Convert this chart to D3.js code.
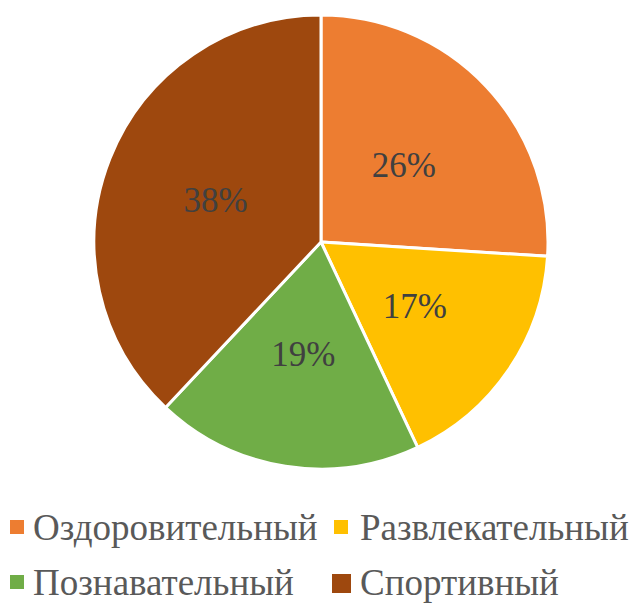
<!DOCTYPE html>
<html>
<head>
<meta charset="utf-8">
<script src="https://cdn.jsdelivr.net/npm/d3@7"></script>
<style>
  body { margin: 0; background: #fff; }
</style>
</head>
<body>
<div id="chart"></div>
<script>
// Chart data
const categories = ["Оздоровительный", "Развлекательный", "Познавательный", "Спортивный"];
const values = [26, 17, 19, 38];
const colors = ["#ED7D31", "#FFC000", "#70AD47", "#9E480E"];

const width = 633, height = 603;
const cx = 321, cy = 242, radius = 227;
const font = "Liberation Serif";

const svg = d3.select("#chart").append("svg")
    .attr("width", width)
    .attr("height", height);

const data = categories.map((c, i) => ({ name: c, value: values[i], color: colors[i] }));

const pie = d3.pie().sort(null).value(d => d.value);
const arc = d3.arc().innerRadius(0).outerRadius(radius);
const labelArc = d3.arc().innerRadius(radius * 0.5).outerRadius(radius * 0.5);

const g = svg.append("g").attr("transform", `translate(${cx},${cy})`);
const arcs = pie(data);

g.selectAll("path.slice")
    .data(arcs)
    .join("path")
    .attr("class", "slice")
    .attr("d", arc)
    .attr("fill", d => d.data.color)
    .attr("stroke", "#fff")
    .attr("stroke-width", 3);

g.selectAll("text.pct")
    .data(arcs)
    .join("text")
    .attr("class", "pct")
    .attr("transform", d => `translate(${labelArc.centroid(d)})`)
    .attr("text-anchor", "middle")
    .attr("dy", "0.35em")
    .attr("font-family", font)
    .attr("font-size", 35)
    .attr("fill", "#404040")
    .text(d => d.data.value + "%");

// Legend: 2 x 2 layout (columns at x=10 / 334, rows at baselines 540 / 595)
const colX = [10, 334];
const rowY = [540, 595];
const legend = svg.selectAll("g.legend")
    .data(data)
    .join("g")
    .attr("class", "legend")
    .attr("transform", (d, i) => `translate(${colX[i % 2]},${rowY[Math.floor(i / 2)]})`);

// the last entry's marker is drawn a bit larger in the original
legend.append("rect")
    .attr("x", (d, i) => i === 3 ? -2 : 0)
    .attr("y", (d, i) => i === 3 ? -21 : -20)
    .attr("width", (d, i) => i === 3 ? 19 : 14)
    .attr("height", (d, i) => i === 3 ? 19 : 14)
    .attr("fill", d => d.color);

legend.append("text")
    .attr("x", (d, i) => i % 2 === 0 ? 23 : 26)
    .attr("y", 0)
    .attr("font-family", font)
    .attr("font-size", 37)
    .attr("fill", "#595959")
    .text(d => d.name);
</script>
</body>
</html>
